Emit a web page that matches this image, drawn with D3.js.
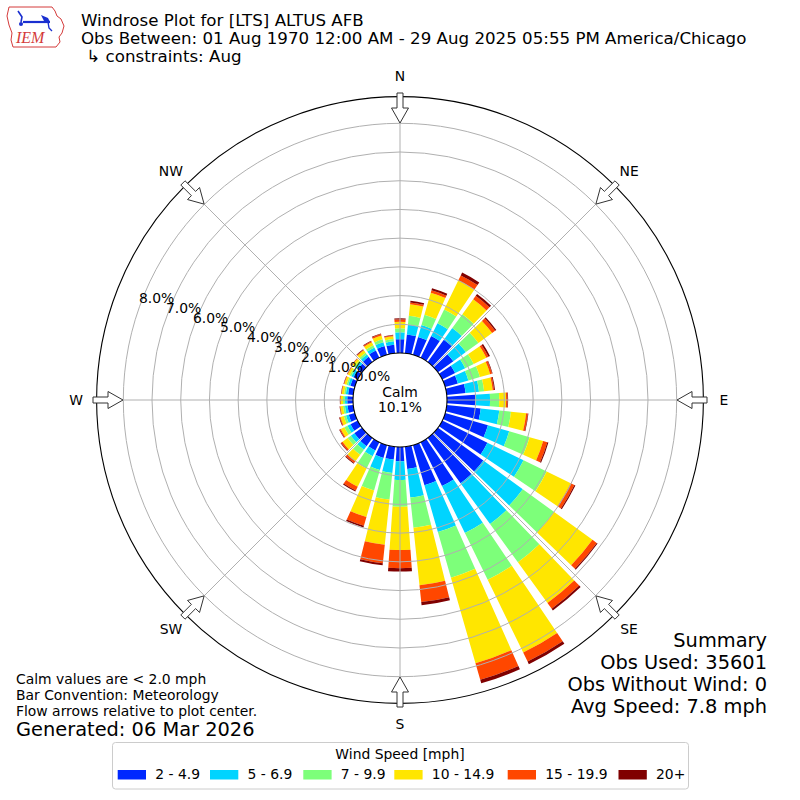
<!DOCTYPE html>
<html>
<head>
<meta charset="utf-8">
<script src="https://cdn.jsdelivr.net/npm/d3@7"></script>
<style>
  html, body { margin: 0; padding: 0; background: #fff; }
  svg { display: block; font-family: "DejaVu Sans", sans-serif; }
</style>
</head>
<body>
<svg id="chart" width="800" height="800"></svg>
<script>
// ---------------- data ----------------
const directions = [0,10,20,30,40,50,60,70,80,90,100,110,120,130,140,150,160,170,
                    180,190,200,210,220,230,240,250,260,270,280,290,300,310,320,330,340,350];
const speedBins = ["2 - 4.9", "5 - 6.9", "7 - 9.9", "10 - 14.9", "15 - 19.9", "20+"];
const binColors = ["#0028ff", "#00d4ff", "#7dff7a", "#ffe600", "#ff4700", "#800000"];

// frequency (%) per direction for each speed bin
const speed2to5 = [0.48,0.66,0.65,0.84,0.96,0.66,0.50,0.46,0.66,0.98,1.19,1.55,1.75,1.95,1.95,1.70,1.45,0.78,
                   0.50,0.45,0.46,0.32,0.35,0.33,0.28,0.22,0.20,0.20,0.18,0.16,0.17,0.18,0.22,0.28,0.32,0.30];
const speed5to7 = [0.24,0.35,0.43,0.50,0.50,0.54,0.39,0.38,0.47,0.52,0.65,0.77,1.40,1.70,1.75,1.82,1.70,1.00,
                   0.65,0.47,0.44,0.22,0.15,0.15,0.12,0.10,0.09,0.08,0.08,0.08,0.08,0.09,0.10,0.12,0.14,0.12];
const speed7to10 = [0.14,0.30,0.37,0.53,0.60,0.54,0.33,0.42,0.18,0.32,0.41,0.74,0.90,1.35,1.65,1.81,1.65,1.06,
                   0.93,0.93,0.74,0.48,0.22,0.14,0.12,0.08,0.07,0.07,0.06,0.06,0.06,0.06,0.08,0.08,0.10,0.08];
const speed10to15 = [0.23,0.41,0.80,1.12,0.64,0.59,0.49,0.37,0.30,0.24,0.53,0.49,0.93,1.65,1.75,2.82,3.10,2.01,
                   1.51,1.58,0.96,0.70,0.28,0.22,0.14,0.12,0.09,0.08,0.08,0.08,0.08,0.09,0.10,0.12,0.14,0.10];
const speed15to20 = [0.08,0.06,0.09,0.20,0.15,0.13,0.08,0.07,0.05,0.05,0.06,0.15,0.14,0.18,0.25,0.35,0.60,0.59,
                   0.63,0.65,0.32,0.15,0.08,0.06,0.04,0.03,0.02,0.02,0.02,0.02,0.02,0.02,0.03,0.04,0.05,0.03];
const speed20plus = [0.04,0.06,0.07,0.11,0.08,0.05,0.06,0.02,0.03,0.02,0.02,0.04,0.04,0.04,0.07,0.10,0.13,0.11,
                   0.12,0.07,0.06,0.04,0.03,0.02,0.02,0.02,0.01,0.01,0.01,0.01,0.01,0.01,0.02,0.02,0.02,0.02];

const radialTicks = [0, 1, 2, 3, 4, 5, 6, 7, 8];
const radialMax = 8.93;
const compassLabels = ["N", "NE", "E", "SE", "S", "SW", "W", "NW"];
const compassAngles = [0, 45, 90, 135, 180, 225, 270, 315];
const calmPct = "10.1%";

const titleLines = ["Windrose Plot for [LTS] ALTUS AFB",
  "Obs Between: 01 Aug 1970 12:00 AM - 29 Aug 2025 05:55 PM America/Chicago",
  " \u21b3 constraints: Aug"];
const summaryLines = ["Summary", "Obs Used: 35601", "Obs Without Wind: 0", "Avg Speed: 7.8 mph"];
const noteLines = ["Calm values are < 2.0 mph", "Bar Convention: Meteorology", "Flow arrows relative to plot center."];
const generatedText = "Generated: 06 Mar 2026";
const legendTitle = "Wind Speed [mph]";

// ---------------- layout ----------------
const svg = d3.select("#chart");
const cx = 400, cy = 400;
const calmR = 47, outerR = 303.4;
const rad = d => d * Math.PI / 180;

const r = d3.scaleLinear().domain([0, radialMax]).range([calmR, outerR]);

const keys = ["s0","s1","s2","s3","s4","s5"];
const series = [speed2to5, speed5to7, speed7to10, speed10to15, speed15to20, speed20plus];
const table = directions.map((dir, i) => {
  const row = { dir };
  keys.forEach((k, j) => row[k] = series[j][i]);
  return row;
});
const stacked = d3.stack().keys(keys)(table);

const g = svg.append("g").attr("transform", `translate(${cx},${cy})`);

// bars
const halfWidth = 4; // degrees
const arc = d3.arc();
stacked.forEach((layer, li) => {
  g.append("g").selectAll("path").data(layer).join("path")
    .attr("d", d => arc({
      innerRadius: r(d[0]), outerRadius: r(d[1]),
      startAngle: rad(d.data.dir - halfWidth), endAngle: rad(d.data.dir + halfWidth)
    }))
    .attr("fill", binColors[li]);
});

// grid rings
g.append("g").selectAll("circle").data(radialTicks.filter(t => t > 0)).join("circle")
  .attr("r", d => r(d)).attr("fill", "none").attr("stroke", "#b0b0b0").attr("stroke-width", 1);

// radial grid lines
g.append("g").selectAll("line").data(compassAngles).join("line")
  .attr("x1", d => calmR * Math.sin(rad(d))).attr("y1", d => -calmR * Math.cos(rad(d)))
  .attr("x2", d => outerR * Math.sin(rad(d))).attr("y2", d => -outerR * Math.cos(rad(d)))
  .attr("stroke", "#b0b0b0").attr("stroke-width", 1);

// outer spine
g.append("circle").attr("r", outerR).attr("fill", "none").attr("stroke", "#000").attr("stroke-width", 1.1);

// calm circle
g.append("circle").attr("r", calmR).attr("fill", "#fff").attr("stroke", "#000").attr("stroke-width", 1.1);

// radial tick labels
const labAng = rad(290);
g.append("g").selectAll("text").data(radialTicks).join("text")
  .attr("x", d => r(d) * Math.sin(labAng) - 1)
  .attr("y", d => -r(d) * Math.cos(labAng) - 2.5)
  .attr("font-size", 13.9).attr("fill", "#000")
  .text(d => d.toFixed(1) + "%");

// calm text
g.append("text").attr("x", 0).attr("y", -3.5).attr("text-anchor", "middle").attr("font-size", 13.9).text("Calm");
g.append("text").attr("x", 0).attr("y", 12).attr("text-anchor", "middle").attr("font-size", 13.9).text(calmPct);

// flow arrows
const tipR = 277, baseR = 292, endR = 307, headHW = 8.5, shaftHW = 3;
const arrowPts = [[tipR,0],[baseR,headHW],[baseR,shaftHW],[endR,shaftHW],[endR,-shaftHW],[baseR,-shaftHW],[baseR,-headHW]];
g.append("g").selectAll("path").data(compassAngles).join("path")
  .attr("d", a => {
    const s = Math.sin(rad(a)), c = Math.cos(rad(a));
    return "M" + arrowPts.map(([rr, t]) => [rr * s + t * c, -rr * c + t * s].map(v => v.toFixed(2)).join(",")).join("L") + "Z";
  })
  .attr("fill", "#fff").attr("stroke", "#333").attr("stroke-width", 1);

// compass labels
g.append("g").selectAll("text").data(compassLabels).join("text")
  .attr("x", (d, i) => 324 * Math.sin(rad(compassAngles[i])))
  .attr("y", (d, i) => -324 * Math.cos(rad(compassAngles[i])) + 5)
  .attr("text-anchor", "middle").attr("font-size", 13.9)
  .text(d => d);

// ---------------- titles & notes ----------------
svg.append("g").selectAll("text").data(titleLines).join("text")
  .attr("x", 81).attr("y", (d, i) => 26 + i * 18)
  .attr("font-size", 16.67).attr("xml:space", "preserve").style("white-space", "pre")
  .text(d => d);

svg.append("g").selectAll("text").data(summaryLines).join("text")
  .attr("x", 767).attr("y", (d, i) => 647 + i * 22)
  .attr("text-anchor", "end").attr("font-size", 19.4)
  .text(d => d);

svg.append("g").selectAll("text").data(noteLines).join("text")
  .attr("x", 16).attr("y", (d, i) => 683.5 + i * 16.2)
  .attr("font-size", 13.9)
  .text(d => d);
svg.append("text").attr("x", 16).attr("y", 736).attr("font-size", 19.4).text(generatedText);

// ---------------- logo ----------------
const logo = svg.append("g");
logo.append("path")
  .attr("d", "M9,7 L52,7 L55,11 L57,16 L61,19 L64,26 L62,33 L59,37 L60,42 L56,47 L13,47 L11,40 L12,33 L9,25 L7,16 Z")
  .attr("fill", "none").attr("stroke", "#d43a3a").attr("stroke-width", 1);
logo.append("path").attr("d", "M18,11 L22,17 L21,22").attr("fill", "none").attr("stroke", "#1a2fd0").attr("stroke-width", 1.6);
logo.append("line").attr("x1", 23).attr("y1", 22).attr("x2", 50).attr("y2", 22).attr("stroke", "#1a2fd0").attr("stroke-width", 2.2);
logo.append("path").attr("d", "M41,15 L48,18 L50,22 L44,21 Z").attr("fill", "#1a2fd0");
logo.append("path").attr("d", "M48,22 L49,28 L52,31").attr("fill", "none").attr("stroke", "#1a2fd0").attr("stroke-width", 1.4);
logo.append("circle").attr("cx", 21).attr("cy", 24).attr("r", 2).attr("fill", "#1a2fd0");
logo.append("text").attr("x", 16).attr("y", 43).attr("font-family", "Liberation Serif, serif")
  .attr("font-style", "italic").attr("font-size", 16).attr("fill", "#d43a3a").text("IEM");

// ---------------- legend ----------------
const leg = svg.append("g");
leg.append("rect").attr("x", 112.5).attr("y", 742.5).attr("width", 576).attr("height", 46.5)
  .attr("rx", 3).attr("fill", "#fff").attr("stroke", "#cccccc").attr("stroke-width", 1);
leg.append("text").attr("x", 400).attr("y", 758.5).attr("text-anchor", "middle").attr("font-size", 13.9).text(legendTitle);
const patchX = [117.7, 210, 303.3, 394.3, 507.7, 618.5];
const items = leg.selectAll("g.item").data(speedBins).join("g").attr("class", "item")
  .attr("transform", (d, i) => `translate(${patchX[i]},0)`);
items.append("rect").attr("x", 0).attr("y", 770).attr("width", 28.3).attr("height", 9.5)
  .attr("fill", (d, i) => binColors[i]);
items.append("text").attr("x", 37.5).attr("y", 778.7).attr("font-size", 13.9).text(d => d);
</script>
</body>
</html>
